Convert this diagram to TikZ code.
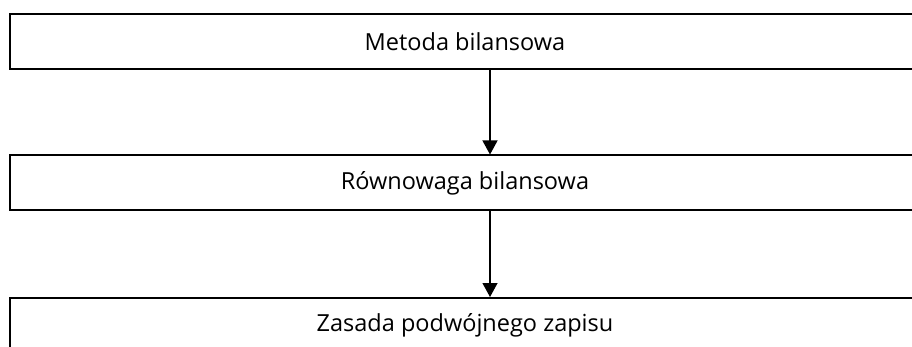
\documentclass[tikz,border=0pt]{standalone}
\usepackage{fontspec}
\setmainfont{Open Sans}
\usetikzlibrary{arrows.meta,positioning}
\tikzset{
  etap/.style={draw, line width=2pt, rectangle, minimum width=910pt, minimum height=55pt, inner sep=0pt, font=\fontsize{23.5}{28}\selectfont},
  strz/.style={line width=1.2pt, -{Triangle[width=15pt,length=14pt]}}
}
\begin{document}
\begin{tikzpicture}[x=1pt,y=-1pt]
\useasboundingbox (0,0) rectangle (912,347);
\node[etap] (metoda) at (465,41.5) {Metoda bilansowa};
\node[etap] (rownowaga) at (465,183) {Równowaga bilansowa};
\node[etap] (zasada) at (465,325.5) {Zasada podwójnego zapisu};
% strzalki w dol
\draw[strz] ([xshift=25pt]metoda.south) -- ([xshift=25pt]rownowaga.north);
\draw[strz] ([xshift=25pt]rownowaga.south) -- ([xshift=25pt]zasada.north);
\end{tikzpicture}
\end{document}
